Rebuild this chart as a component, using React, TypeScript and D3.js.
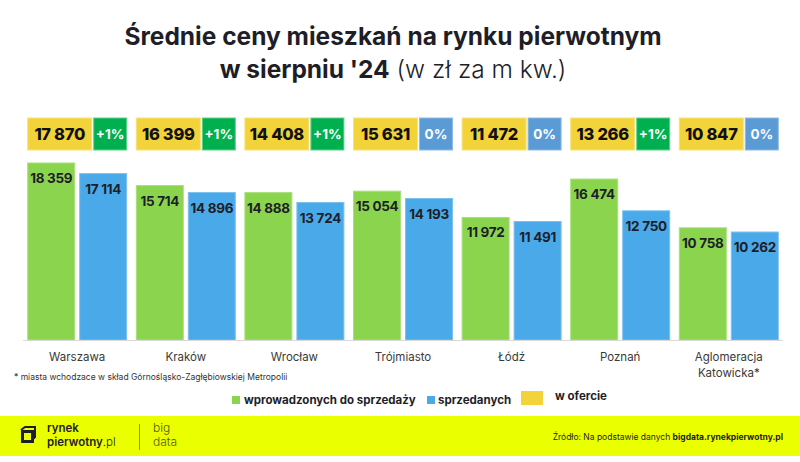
import React from "react";
import * as d3 from "d3";

const categories = ["Warszawa", "Kraków", "Wrocław", "Trójmiasto", "Łódź", "Poznań", "Aglomeracja Katowicka*"];
const introduced = [18359, 15714, 14888, 15054, 11972, 16474, 10758];
const sold = [17114, 14896, 13724, 14193, 11491, 12750, 10262];
const offer = [17870, 16399, 14408, 15631, 11472, 13266, 10847];
const change = ["+1%", "+1%", "+1%", "0%", "0%", "+1%", "0%"];
const seriesKeys = ["introduced", "sold"];
const legendLabels = ["wprowadzonych do sprzedaży", "sprzedanych", "w ofercie"];

const W = 800;
const H = 462;
const FONT = "Inter, 'Open Sans', sans-serif";
const DARK = "#1e1e28";
const GREEN = "#8bd44e";
const BLUE = "#4aa9e9";
const YELLOW = "#f2d43a";
const PCT_GREEN = "#00b04f";
const PCT_BLUE = "#5b9bd5";
const FOOTER = "#eaff00";

const fmt = d3.formatLocale({ thousands: " ", grouping: [3], decimal: ",", currency: ["", ""] }).format(",d");

export default function App() {
  const x = d3.scaleBand<string>().domain(categories).range([27.7, 778.3]).paddingInner(0.0884).paddingOuter(0);
  const xi = d3.scaleBand<string>().domain(seriesKeys).range([0, x.bandwidth()]).paddingInner(0.096).paddingOuter(0);
  const y = d3.scaleLinear().domain([-2400, 20000]).range([340, 149]);
  const bw = xi.bandwidth();
  const boxTop = 118;
  const boxH = 32;
  const yellowW = 64;

  return (
    <svg width={W} height={H} viewBox={`0 0 ${W} ${H}`} style={{ display: "block", position: "absolute", left: 0, top: 0 }}>
      <rect x={0} y={0} width={W} height={H} fill="#ffffff" />
      {/* Title */}
      <text x={393} y={45} textAnchor="middle" fontFamily={FONT} fontWeight={700} fontSize={24.5} fill={DARK}>
        Średnie ceny mieszkań na rynku pierwotnym
      </text>
      <text x={393} y={78} textAnchor="middle" fontFamily={FONT} fontSize={24.5} fill={DARK}>
        <tspan fontWeight={700}>w sierpniu '24</tspan>
        <tspan fontWeight={300}> (w zł za m kw.)</tspan>
      </text>

      {/* Offer boxes */}
      {categories.map((c, i) => {
        const x0 = x(c)!;
        const pctColor = change[i] === "0%" ? PCT_BLUE : PCT_GREEN;
        return (
          <g key={"box" + c}>
            <rect x={x0} y={boxTop} width={yellowW} height={boxH} fill={YELLOW} stroke="#f7e27a" strokeWidth={1} />
            <text x={x0 + yellowW / 2} y={boxTop + boxH / 2 + 6} textAnchor="middle" fontFamily={FONT} fontWeight={800} fontSize={16.5} fill="#111" letterSpacing={-0.3}>
              {fmt(offer[i])}
            </text>
            <rect x={x0 + yellowW + 2} y={boxTop} width={x.bandwidth() - yellowW - 2} height={boxH} fill={pctColor} stroke={change[i] === "0%" ? "#8dbbe4" : "#5fd08e"} strokeWidth={1} />
            <text x={x0 + yellowW + 2 + (x.bandwidth() - yellowW - 2) / 2} y={boxTop + boxH / 2 + 5} textAnchor="middle" fontFamily={FONT} fontWeight={700} fontSize={13.5} fill="#ffffff">
              {change[i]}
            </text>
          </g>
        );
      })}

      {/* Bars */}
      {categories.map((c, i) => {
        const x0 = x(c)!;
        const vals = [introduced[i], sold[i]];
        return (
          <g key={"bars" + c}>
            {seriesKeys.map((k, j) => {
              const bx = x0 + xi(k)!;
              const top = y(vals[j]);
              return (
                <g key={k}>
                  <rect x={bx} y={top} width={bw} height={y(-2400) - top} fill={j === 0 ? GREEN : BLUE} stroke={j === 0 ? "#a9e07a" : "#7cc0ef"} strokeWidth={1} />
                  <text x={bx + bw / 2} y={top + 20} textAnchor="middle" fontFamily={FONT} fontWeight={700} fontSize={13.5} fill={DARK} letterSpacing={-0.3}>
                    {fmt(vals[j])}
                  </text>
                </g>
              );
            })}
          </g>
        );
      })}

      {/* Axis line */}
      <line x1={23} x2={783} y1={340.5} y2={340.5} stroke="#d9d9d9" strokeWidth={1} />

      {/* Category labels */}
      {categories.map((c) => {
        const cx = x(c)! + x.bandwidth() / 2;
        const parts = c === "Aglomeracja Katowicka*" ? ["Aglomeracja", "Katowicka*"] : [c];
        return (
          <text key={"lab" + c} x={cx} y={361} textAnchor="middle" fontFamily={FONT} fontSize={11.5} fill="#3a3a3a">
            {parts.map((p, k) => (
              <tspan key={k} x={cx} dy={k === 0 ? 0 : 16}>{p}</tspan>
            ))}
          </text>
        );
      })}

      {/* Footnote */}
      <text x={14} y={380} fontFamily={FONT} fontSize={8.5} fill="#333">
        * miasta wchodzace w skład Górnośląsko-Zagłębiowskiej Metropolii
      </text>

      {/* Legend */}
      <rect x={232} y={396} width={8} height={8} fill={GREEN} />
      <text x={244} y={404} fontFamily={FONT} fontWeight={700} fontSize={11.5} fill={DARK}>{legendLabels[0]}</text>
      <rect x={427} y={396} width={8} height={8} fill={BLUE} />
      <text x={438} y={404} fontFamily={FONT} fontWeight={700} fontSize={11.5} fill={DARK}>{legendLabels[1]}</text>
      <rect x={521} y={391} width={22} height={14} fill={YELLOW} />
      <text x={555} y={400} fontFamily={FONT} fontWeight={700} fontSize={11.5} fill={DARK}>{legendLabels[2]}</text>

      {/* Footer */}
      <rect x={0} y={416} width={W} height={40} fill={FOOTER} />
      <g>
        <path d="M22.5 431.5 h10 v10 h-10 z" fill="none" stroke={DARK} strokeWidth={3} />
        <path d="M21 430 l4 -3 h10 v10 l-2 2" fill="none" stroke={DARK} strokeWidth={2} />
        <text x={47} y={432} fontFamily={FONT} fontWeight={600} fontSize={11.5} fill={DARK}>rynek</text>
        <text x={47} y={446} fontFamily={FONT} fontSize={11.5} fill={DARK}>
          <tspan fontWeight={600}>pierwotny</tspan>
          <tspan fontWeight={300}>.pl</tspan>
        </text>
        <line x1={139.5} x2={139.5} y1={424} y2={450} stroke="#6d7a1a" strokeWidth={0.8} />
        <text x={153} y={432} fontFamily={FONT} fontWeight={300} fontSize={12} fill="#555a10">big</text>
        <text x={153} y={446} fontFamily={FONT} fontWeight={300} fontSize={12} fill="#555a10">data</text>
      </g>
      <text x={783} y={440} textAnchor="end" fontFamily={FONT} fontSize={8.5} fill={DARK}>
        <tspan>Źródło: Na podstawie danych </tspan>
        <tspan fontWeight={700}>bigdata.rynekpierwotny.pl</tspan>
      </text>
    </svg>
  );
}
